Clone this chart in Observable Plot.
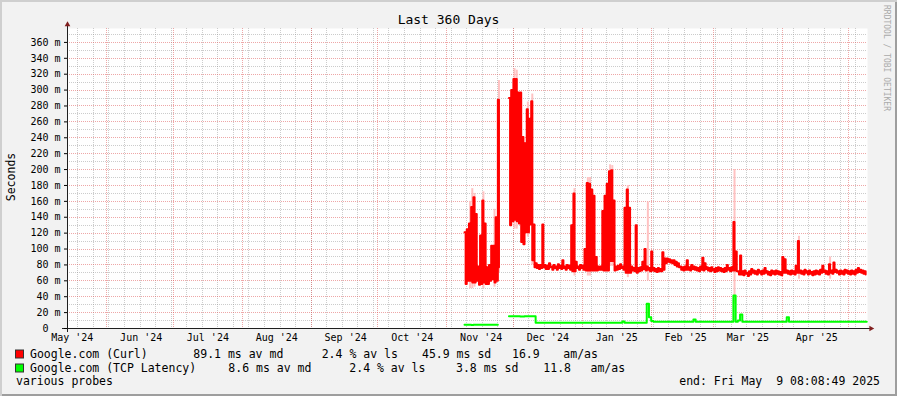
<!DOCTYPE html>
<html><head><meta charset="utf-8">
<script src="https://cdn.jsdelivr.net/npm/d3@7"></script>
<script src="https://cdn.jsdelivr.net/npm/@observablehq/plot@0.6"></script>
<style>
html,body{margin:0;padding:0;background:#f2f2f2;}
#wrap{position:relative;width:897px;height:396px;background:#f2f2f2;overflow:hidden;
 box-shadow: inset 2px 2px 0 #cfcfcf, inset -2px -2px 0 #9e9e9e;}
#wrap svg{position:absolute;left:0;top:0;overflow:visible;}
</style></head><body><div id="wrap"></div>
<script>
// ---- time frame ----
const DAY = 864e5;
const END = new Date(Date.UTC(2025, 4, 9, 8, 8, 49));
const START = new Date(+END - 360 * DAY);
const NOV1 = Date.UTC(2024, 10, 1);
const FIRST_DAY = 8; // first data day = Nov 9 2024 (days after Nov 1)

// ---- tick labels ----
const yTicks = [0, 20, 40, 60, 80, 100, 120, 140, 160, 180, 200, 220, 240, 260, 280, 300, 320, 340, 360];
const monthLabels = ["May '24", "Jun '24", "Jul '24", "Aug '24", "Sep '24", "Oct '24", "Nov '24", "Dec '24", "Jan '25", "Feb '25", "Mar '25", "Apr '25"];

// ---- Google.com (Curl): daily median swing (ms), from Nov 9 2024 ----
const curlHigh = [
 121,125,132,153,165,144,78,117,161,132,
 77,80,104,104,140,288,null,null,null,null,
 290,300,314,314,297,297,241,233,276,264,
 286,131,82,80,80,131,80,79,82,78,
 80,78,81,79,86,78,80,79,130,170,
 84,78,80,79,100,183,182,175,167,90,
 78,78,148,167,182,198,199,161,78,79,
 81,78,152,175,152,78,76,130,76,77,
 84,100,78,76,97,76,75,76,75,96,
 88,88,87,86,86,84,82,78,77,78,
 86,77,80,78,77,76,78,89,82,77,
 76,77,75,76,77,76,75,76,80,76,
 77,134,97,72,92,72,73,70,72,75,
 73,72,74,72,73,76,72,71,73,72,
 73,72,71,90,87,73,72,73,72,79,
 110,73,72,74,72,73,71,72,73,72,
 74,79,73,72,81,73,83,74,72,73,
 72,74,73,72,73,72,74,76,74,73,72
];
const curlLow = [
 56,60,60,58,58,60,55,56,58,56,
 56,60,62,58,60,77,null,null,null,null,
 130,135,137,135,132,109,106,121,121,131,
 86,77,76,75,76,77,75,75,77,74,
 76,74,76,75,76,74,76,74,72,72,
 76,74,76,74,73,73,73,73,73,73,
 74,74,73,73,73,85,85,73,74,75,
 76,74,70,70,70,73,72,70,72,73,
 75,73,74,72,73,72,71,72,72,74,
 82,84,83,82,80,78,77,74,73,74,
 74,73,75,74,73,72,74,73,75,73,
 72,73,71,72,73,72,71,72,74,72,
 73,73,72,68,68,67,69,66,68,70,
 69,68,70,68,69,70,68,67,69,68,
 69,68,67,70,70,69,68,69,68,70,
 70,69,68,70,68,69,67,68,69,68,
 70,71,69,68,70,69,71,70,68,69,
 68,70,69,68,69,68,70,71,70,69,68
];
// ---- Google.com (TCP Latency): daily median (ms), from Nov 9 2024 ----
const tcpMedian = [
 4.7,4.7,4.7,4.3,4.7,4.7,4.7,4.7,4.7,4.7,
 4.7,4.7,4.7,4.7,4.7,4.7,null,null,null,null,
 15.5,15.5,15.5,15.5,15.5,15,15,15.5,15.5,15.5,
 15.5,15.5,7.2,7.2,7.2,7.2,7.2,7.2,7.2,7.2,
 7.2,7.2,7.2,7.2,7.2,7.2,7.2,7.2,7.2,7.2,
 7.2,7.2,7.2,7.2,7.2,7.2,7.2,7.2,7.2,7.2,
 7.2,7.2,7.2,7.2,7.2,7.2,7.2,7.2,7.2,7.2,
 7.2,8.8,7.2,7.2,7.2,7.2,7.2,7.2,7.2,7.2,
 7.2,7.2,31,14,9.5,8.5,8.5,8.5,8.5,8.5,
 8.5,8.5,8.5,8.5,8.5,8.5,8.5,8.5,8.5,8.5,
 8.5,8.5,8.5,11.3,8.5,8.5,8.5,8.5,8.5,8.5,
 8.5,8.5,8.5,8.5,8.5,8.5,8.5,8.5,8.5,8.5,
 8.5,41.5,8.5,10,17.6,8.5,8.5,8.5,8.5,8.5,
 8.5,8.5,8.5,8.5,8.5,8.5,8.5,8.5,8.5,8.5,
 8.5,8.5,8.5,8.5,8.5,14,8.5,8.5,8.5,8.5,
 8.5,8.5,8.5,8.5,8.5,8.5,8.5,8.5,8.5,8.5,
 8.5,8.5,8.5,8.5,8.5,8.5,8.5,8.5,8.5,8.5,
 8.5,8.5,8.5,8.5,8.5,8.5,8.5,8.5,8.5,8.5,8.5,8.5
];
// ---- visible smoke (ping spread) of the Curl probe ----
const smokeDay  = [10,11,12,16,21,23,30,31,36,38,57,63,64,73,74,81,90,129,158,172];
const smokeLow  = [50,50,52,50,52,70,125,125,115,80,66,66,66,78,78,64,60,30,62,62];
const smokeHigh = [160,176,170,172,150,312,327,325,285,295,176,190,190,206,205,180,159,200,116,90];

// ---- legend ----
const seriesNames = ["Google.com (Curl)", "Google.com (TCP Latency)"];
const seriesColors = ["#ff0000", "#00ff00"];
const medianMs = ["89.1", "8.6"];
const lossPct = ["2.4", "2.4"];
const sdMs = ["45.9", "3.8"];
const amas = ["16.9", "11.8"];

// ---- build tables ----
const dayDate = d => new Date(NOV1 + d * DAY);
const curlPts = [];
curlHigh.forEach((h, i) => {
  const d = FIRST_DAY + i;
  curlPts.push({t: dayDate(d), v: h});
  curlPts.push({t: dayDate(d + 0.5), v: curlLow[i]});
});
const tcpPts = tcpMedian.map((v, i) => ({t: dayDate(FIRST_DAY + i), v}));
const smoke = smokeDay.map((d, i) => ({t: dayDate(d + 0.5), lo: smokeLow[i], hi: smokeHigh[i]}));

const labelDates = monthLabels.map((_, i) => new Date(Date.UTC(2024, 4 + i, 16, 12)));
const labelFor = new Map(labelDates.map((d, i) => [+d, monthLabels[i]]));
const minorY = d3.range(10, 377, 20);
const majorY = yTicks.filter(v => v > 0);
const weeks = d3.utcSunday.range(START, END);
const months = d3.utcMonth.range(START, END);

const GRID = "rgba(143,143,143,0.45)";
const MGRID = "rgba(222,79,79,0.5)";
const crisp = {shapeRendering: "crispEdges"};

const chart = Plot.plot({
  width: 897, height: 345,
  marginLeft: 67, marginRight: 30, marginTop: 28, marginBottom: 17,
  style: {background: "transparent", fontFamily: "'DejaVu Sans Mono', monospace", fontSize: "10px", color: "#000"},
  x: {type: "utc", domain: [START, END]},
  y: {type: "linear", domain: [0, 377.5]},
  marks: [
    Plot.frame({fill: "#ffffff", stroke: null}),
    Plot.ruleY(minorY, {stroke: GRID, strokeDasharray: "1,1", ...crisp}),
    Plot.ruleX(weeks, {stroke: GRID, strokeDasharray: "1,1", ...crisp}),
    Plot.ruleY(majorY, {stroke: MGRID, strokeDasharray: "1,1", ...crisp}),
    Plot.ruleX(months, {stroke: MGRID, strokeDasharray: "1,1", ...crisp}),
    Plot.ruleX(smoke, {x: "t", y1: "lo", y2: "hi", stroke: "#ffc2c2", strokeWidth: 2}),
    Plot.line(curlPts, {x: "t", y: "v", curve: "step-after", stroke: "#ff0000", strokeWidth: 2}),
    Plot.line(tcpPts, {x: "t", y: "v", curve: "step-after", stroke: "#00ff00", strokeWidth: 2}),
    Plot.ruleX([START], {y1: -5, y2: 381, stroke: "#1f1f1f", ...crisp}),
    Plot.ruleY([0], {x1: new Date(+START - 2.4 * DAY), x2: new Date(+END + 1.2 * DAY), stroke: "#1f1f1f", ...crisp}),
    Plot.dot([{t: END, v: 0}], {x: "t", y: "v", symbol: "triangle", r: 2.1, fill: "#801f1f", stroke: null, rotate: 90, dx: 3.5}),
    Plot.dot([{t: START, v: 377.5}], {x: "t", y: "v", symbol: "triangle", r: 2.1, fill: "#801f1f", stroke: null, dy: -4}),
    Plot.axisY({ticks: yTicks, tickFormat: v => v === 0 ? "0\u00a0\u00a0" : v + " m", tickSize: 3, tickPadding: 4, label: null, fill: "#000"}),
    Plot.axisX({ticks: labelDates, tickFormat: d => labelFor.get(+d), tickSize: 0, tickPadding: 5, label: null, fill: "#000"})
  ]
});
const wrap = document.getElementById("wrap");
wrap.appendChild(chart);

// ---- texts around the chart ----
const ov = d3.select(wrap).append("svg").attr("width", 897).attr("height", 396)
  .style("pointer-events", "none").attr("font-family", "'DejaVu Sans Mono', monospace");
ov.append("text").attr("x", 448.5).attr("y", 24).attr("text-anchor", "middle").attr("font-size", 13).text("Last 360 Days");
ov.append("text").attr("transform", "translate(15,177) rotate(-90)").attr("text-anchor", "middle").attr("font-size", 11.5).text("Seconds");
ov.append("text").attr("transform", "translate(883.5,5) rotate(90)").attr("font-size", 8).attr("fill", "#aaaaaa").text("RRDTOOL / TOBI OETIKER");

const rowY = [357.5, 371.5];
const colX = [[30, 193.3, 321.7, 422, 512, 563.3], [30, 228.3, 349.3, 456, 543.3, 590.5]];
seriesNames.forEach((name, i) => {
  ov.append("rect").attr("x", 15.5).attr("y", rowY[i] - 7.5).attr("width", 8).attr("height", 8)
    .attr("fill", seriesColors[i]).attr("stroke", "#333").attr("stroke-width", 1);
  const parts = [name, medianMs[i] + " ms av md", lossPct[i] + " % av ls", sdMs[i] + " ms sd", amas[i], "am/as"];
  parts.forEach((p, j) => ov.append("text").attr("x", colX[i][j]).attr("y", rowY[i]).attr("font-size", 11.5).text(p));
});
ov.append("text").attr("x", 16).attr("y", 385).attr("font-size", 11.5).text("various probes");
ov.append("text").attr("x", 880).attr("y", 385).attr("font-size", 11.5).attr("text-anchor", "end")
  .style("white-space", "pre").text("end: Fri May  9 08:08:49 2025");
</script></body></html>
